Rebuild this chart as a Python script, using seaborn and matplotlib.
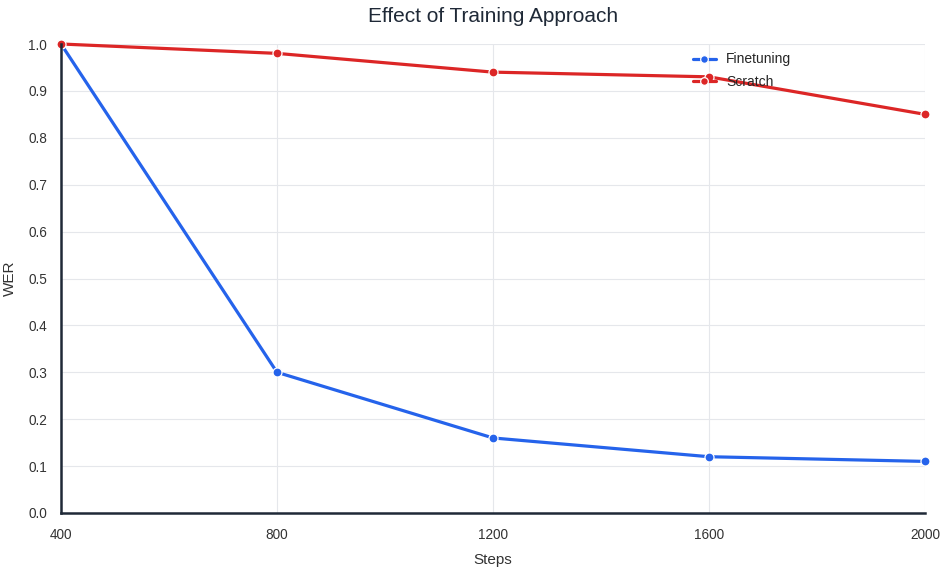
import matplotlib
matplotlib.use("Agg")
import matplotlib.pyplot as plt
import seaborn as sns
import pandas as pd

steps = [400, 800, 1200, 1600, 2000]
finetuning = [1.0, 0.30, 0.16, 0.12, 0.11]
scratch = [1.0, 0.98, 0.94, 0.93, 0.85]
series_names = ["Finetuning", "Scratch"]
y_ticks = [0.0, 0.1, 0.2, 0.3, 0.4, 0.5, 0.6, 0.7, 0.8, 0.9, 1.0]

df = pd.DataFrame({
    "Steps": steps * 2,
    "WER": finetuning + scratch,
    "Approach": [series_names[0]] * len(steps) + [series_names[1]] * len(steps),
})

sns.set_theme(style="white")
plt.rcParams['font.family'] = ['Liberation Sans', 'DejaVu Sans']

fig = plt.figure(figsize=(9.41, 5.68), dpi=100)
ax = fig.add_axes([61/941, 1 - 513/568, (925-61)/941, (513-44)/568])

palette = {"Finetuning": "#2563eb", "Scratch": "#dc2626"}
sns.lineplot(data=df, x="Steps", y="WER", hue="Approach", palette=palette,
             marker="o", markersize=6.5, markeredgecolor="white", markeredgewidth=0.9,
             linewidth=2.3, ax=ax, legend=True, zorder=3)
for ln in ax.get_lines():
    ln.set_clip_on(False)

ax.set_xlim(400, 2000)
ax.set_ylim(0, 1.0)
ax.set_xticks(steps)
ax.set_xticklabels([str(s) for s in steps])
ax.set_yticks(y_ticks)
ax.set_yticklabels([f"{v:.1f}" for v in y_ticks])
ax.tick_params(axis="both", length=0, labelsize=9.8, colors="#333333")
ax.tick_params(axis="x", pad=11)
ax.tick_params(axis="y", pad=10)
for lab in ax.get_xticklabels() + ax.get_yticklabels():
    lab.set_color("#333333")

ax.grid(True, color="#e5e7eb", linewidth=0.8)
ax.set_axisbelow(True)
for side in ["top", "right"]:
    ax.spines[side].set_visible(False)
for side in ["left", "bottom"]:
    ax.spines[side].set_color("#1f2937")
    ax.spines[side].set_linewidth(1.8)
    ax.spines[side].set_zorder(4)

ax.set_xlabel("Steps", fontsize=11, color="#333333", labelpad=8)
ax.set_ylabel("WER", fontsize=11, color="#333333", labelpad=8)
ax.set_title("Effect of Training Approach", fontsize=15, color="#1f2937", pad=15.5)

leg = ax.legend(loc="upper left", bbox_to_anchor=(680/941, 1 - 40/568),
                bbox_transform=fig.transFigure, frameon=False, fontsize=10,
                handlelength=1.7, handletextpad=0.7, labelspacing=0.6,
                markerscale=0.85, title=None)

fig.savefig("out.png", dpi=100)
